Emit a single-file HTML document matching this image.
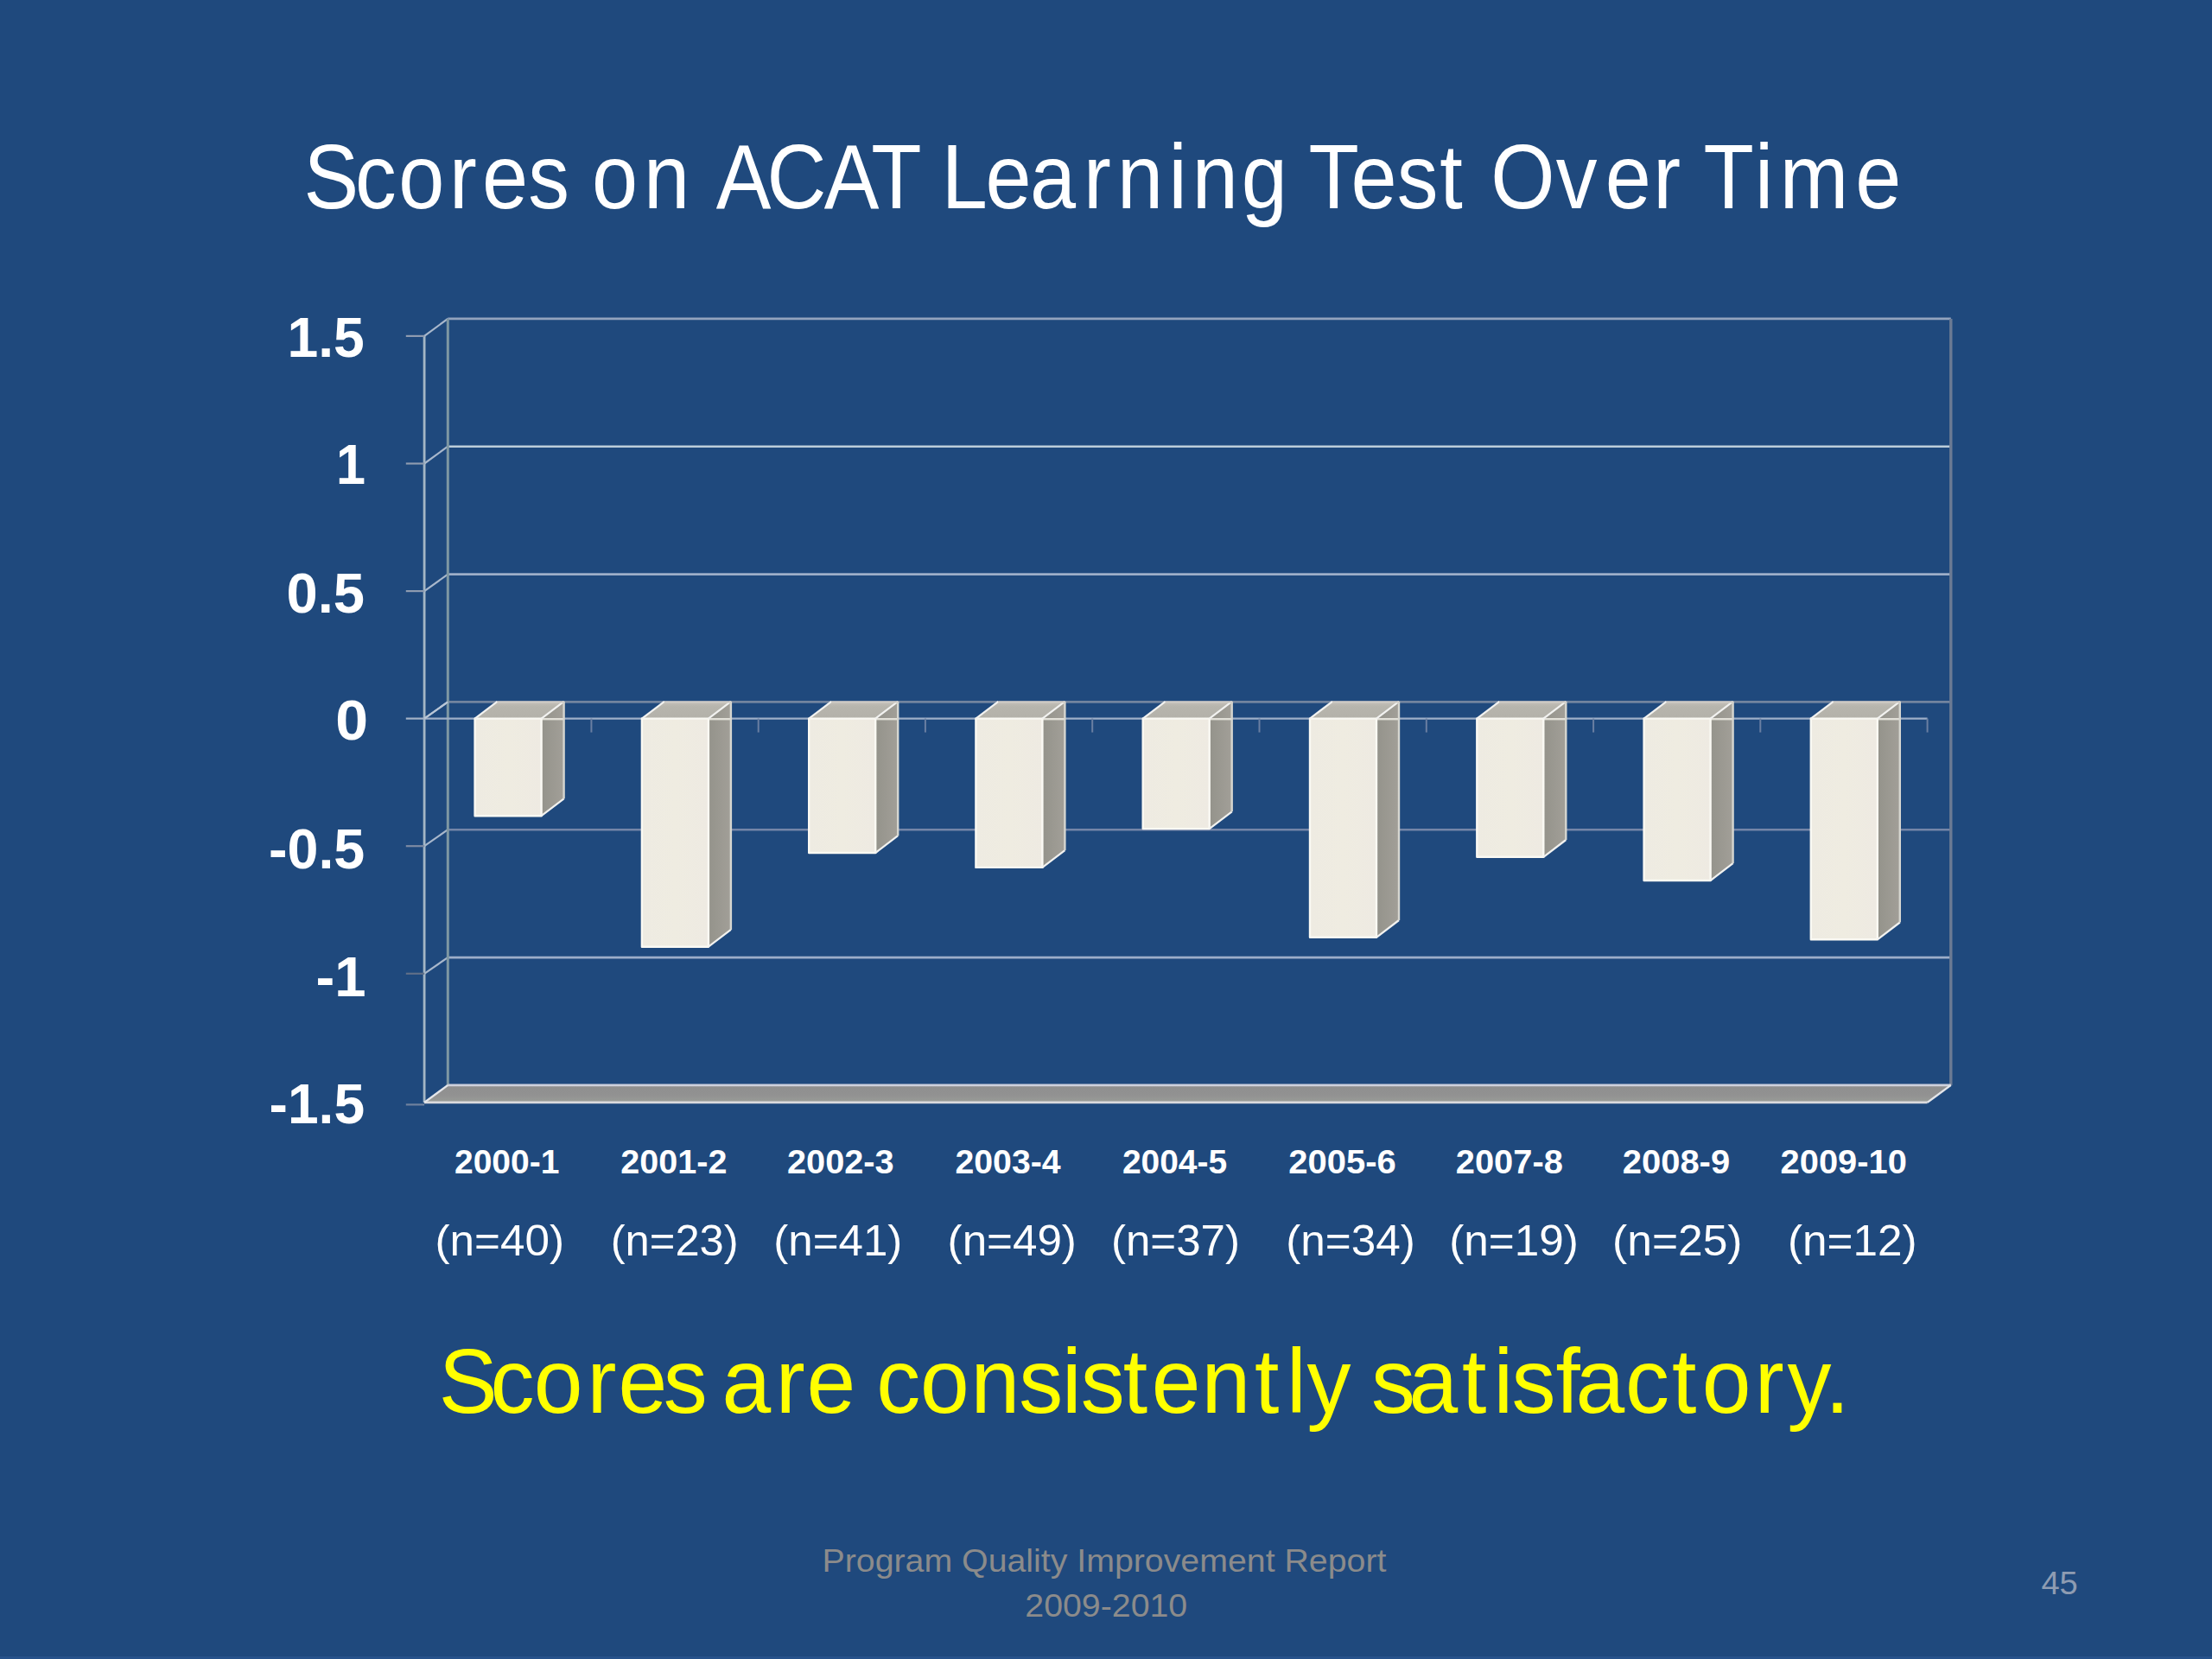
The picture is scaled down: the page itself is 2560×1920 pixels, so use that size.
<!DOCTYPE html>
<html><head><meta charset="utf-8"><title>Scores on ACAT Learning Test Over Time</title>
<style>
html,body{margin:0;padding:0;background:#1F497D;}
body{width:2560px;height:1920px;overflow:hidden;}
svg{display:block;}
text{font-family:"Liberation Sans",sans-serif;}
</style></head>
<body>
<svg width="2560" height="1920" viewBox="0 0 2560 1920">
<defs>
<linearGradient id="front" x1="0" y1="0" x2="1" y2="0">
<stop offset="0" stop-color="#EEEBE2"/><stop offset="0.5" stop-color="#EFECE1"/><stop offset="1" stop-color="#EEEAE2"/>
</linearGradient>
<linearGradient id="side" x1="0" y1="0" x2="1" y2="0">
<stop offset="0" stop-color="#94938B"/><stop offset="1" stop-color="#A29F98"/>
</linearGradient>
<linearGradient id="top" x1="0" y1="0" x2="0" y2="1">
<stop offset="0" stop-color="#C4C0BA"/><stop offset="0.3" stop-color="#B7B5AD"/><stop offset="1" stop-color="#B3B1A9"/>
</linearGradient>
<linearGradient id="floor" x1="0" y1="0" x2="0" y2="1">
<stop offset="0" stop-color="#8E8E8E"/><stop offset="0.6" stop-color="#929292"/><stop offset="1" stop-color="#9A9D98"/>
</linearGradient>
</defs>
<rect width="2560" height="1920" fill="#1F497D"/>
<rect x="0" y="1917" width="2560" height="3" fill="#27528A"/>
<line x1="518.3" y1="368.9" x2="2257.8" y2="368.9" stroke="#93A3BD" stroke-width="2.6"/>
<line x1="518.3" y1="516.7" x2="2257.8" y2="516.7" stroke="#BCCDDA" stroke-width="2.6"/>
<line x1="518.3" y1="664.6" x2="2257.8" y2="664.6" stroke="#9DAEC8" stroke-width="2.6"/>
<line x1="518.3" y1="812.4" x2="2257.8" y2="812.4" stroke="#72849F" stroke-width="2.6"/>
<line x1="518.3" y1="960.2" x2="2257.8" y2="960.2" stroke="#7485A8" stroke-width="2.6"/>
<line x1="518.3" y1="1108.1" x2="2257.8" y2="1108.1" stroke="#9DAEC9" stroke-width="2.6"/>
<line x1="491.1" y1="388.9" x2="518.3" y2="368.9" stroke="#A9B8CC" stroke-width="2.2"/>
<line x1="491.1" y1="536.5" x2="518.3" y2="516.7" stroke="#A9B8CC" stroke-width="2.2"/>
<line x1="491.1" y1="684.1" x2="518.3" y2="664.6" stroke="#A9B8CC" stroke-width="2.2"/>
<line x1="491.1" y1="831.6" x2="518.3" y2="812.4" stroke="#A9B8CC" stroke-width="2.2"/>
<line x1="491.1" y1="979.2" x2="518.3" y2="960.2" stroke="#A9B8CC" stroke-width="2.2"/>
<line x1="491.1" y1="1126.8" x2="518.3" y2="1108.1" stroke="#A9B8CC" stroke-width="2.2"/>
<line x1="518.3" y1="368.9" x2="518.3" y2="1255.9" stroke="#7E97A3" stroke-width="3"/>
<line x1="2257.8" y1="368.9" x2="2257.8" y2="1255.9" stroke="#6B7A93" stroke-width="3.4"/>
<line x1="491.1" y1="388.9" x2="491.1" y2="1275.9" stroke="#A4B6C5" stroke-width="2.8"/>
<line x1="469.8" y1="388.9" x2="491.1" y2="388.9" stroke="#8E9BB0" stroke-width="2.2"/>
<line x1="469.8" y1="536.5" x2="491.1" y2="536.5" stroke="#8E9BB0" stroke-width="2.2"/>
<line x1="469.8" y1="684.1" x2="491.1" y2="684.1" stroke="#8E9BB0" stroke-width="2.2"/>
<line x1="469.8" y1="831.6" x2="491.1" y2="831.6" stroke="#A4B2C6" stroke-width="2.2"/>
<line x1="469.8" y1="979.2" x2="491.1" y2="979.2" stroke="#7D8BA3" stroke-width="2.2"/>
<line x1="469.8" y1="1126.8" x2="491.1" y2="1126.8" stroke="#5F6F88" stroke-width="2.2"/>
<line x1="469.8" y1="1278.4" x2="491.1" y2="1278.4" stroke="#6F819E" stroke-width="2.2"/>
<polygon points="491.1,1275.9 2230.6,1275.9 2257.8,1255.9 518.3,1255.9" fill="url(#floor)"/>
<line x1="518.3" y1="1255.9" x2="2257.8" y2="1255.9" stroke="#CDD0DC" stroke-width="2.6"/>
<line x1="491.1" y1="1275.9" x2="2230.6" y2="1275.9" stroke="#DADADD" stroke-width="2.8"/>
<line x1="491.1" y1="1275.9" x2="518.3" y2="1255.9" stroke="#E4E6EA" stroke-width="2.4"/>
<line x1="2230.6" y1="1275.9" x2="2257.8" y2="1255.9" stroke="#E4E6EA" stroke-width="2.4"/>
<line x1="491.1" y1="831.6" x2="2230.6" y2="831.6" stroke="#9FAFC8" stroke-width="2.4"/>
<line x1="491.1" y1="831.6" x2="518.3" y2="812.4" stroke="#B9C6D6" stroke-width="2.2"/>
<polygon points="626.6,831.6 652.6,811.8 652.6,924.4 626.6,944.2" fill="url(#side)"/>
<polygon points="549.6,831.6 626.6,831.6 652.6,811.8 575.6,811.8" fill="url(#top)"/>
<rect x="549.6" y="831.6" width="77.0" height="112.6" fill="url(#front)"/>
<line x1="626.6" y1="832.2" x2="652.6" y2="832.2" stroke="#E2E0D8" stroke-width="2.4"/>
<path d="M549.6,944.2 L549.6,831.6 L626.6,831.6 L626.6,944.2 Z" fill="none" stroke="#FAF9F3" stroke-width="2.4" stroke-linejoin="round"/>
<path d="M549.6,831.6 L575.6,811.8 M626.6,831.6 L652.6,811.8 M652.6,924.4 L626.6,944.2" fill="none" stroke="#F2F2F0" stroke-width="2.2" stroke-linejoin="round"/>
<line x1="652.6" y1="811.8" x2="652.6" y2="924.4" stroke="#D6D6D0" stroke-width="2.4"/>
<line x1="575.6" y1="812.6" x2="652.6" y2="812.6" stroke="#CFCBC6" stroke-width="2"/>
<polygon points="819.9,831.6 845.9,811.8 845.9,1075.9 819.9,1095.7" fill="url(#side)"/>
<polygon points="742.9,831.6 819.9,831.6 845.9,811.8 768.9,811.8" fill="url(#top)"/>
<rect x="742.9" y="831.6" width="77.0" height="264.1" fill="url(#front)"/>
<line x1="819.9" y1="832.2" x2="845.9" y2="832.2" stroke="#E2E0D8" stroke-width="2.4"/>
<path d="M742.9,1095.7 L742.9,831.6 L819.9,831.6 L819.9,1095.7 Z" fill="none" stroke="#FAF9F3" stroke-width="2.4" stroke-linejoin="round"/>
<path d="M742.9,831.6 L768.9,811.8 M819.9,831.6 L845.9,811.8 M845.9,1075.9 L819.9,1095.7" fill="none" stroke="#F2F2F0" stroke-width="2.2" stroke-linejoin="round"/>
<line x1="845.9" y1="811.8" x2="845.9" y2="1075.9" stroke="#D6D6D0" stroke-width="2.4"/>
<line x1="768.9" y1="812.6" x2="845.9" y2="812.6" stroke="#CFCBC6" stroke-width="2"/>
<polygon points="1013.2,831.6 1039.2,811.8 1039.2,967.2 1013.2,987.0" fill="url(#side)"/>
<polygon points="936.2,831.6 1013.2,831.6 1039.2,811.8 962.2,811.8" fill="url(#top)"/>
<rect x="936.2" y="831.6" width="77.0" height="155.4" fill="url(#front)"/>
<line x1="1013.2" y1="832.2" x2="1039.2" y2="832.2" stroke="#E2E0D8" stroke-width="2.4"/>
<path d="M936.2,987.0 L936.2,831.6 L1013.2,831.6 L1013.2,987.0 Z" fill="none" stroke="#FAF9F3" stroke-width="2.4" stroke-linejoin="round"/>
<path d="M936.2,831.6 L962.2,811.8 M1013.2,831.6 L1039.2,811.8 M1039.2,967.2 L1013.2,987.0" fill="none" stroke="#F2F2F0" stroke-width="2.2" stroke-linejoin="round"/>
<line x1="1039.2" y1="811.8" x2="1039.2" y2="967.2" stroke="#D6D6D0" stroke-width="2.4"/>
<line x1="962.2" y1="812.6" x2="1039.2" y2="812.6" stroke="#CFCBC6" stroke-width="2"/>
<polygon points="1206.4,831.6 1232.4,811.8 1232.4,984.1 1206.4,1003.9" fill="url(#side)"/>
<polygon points="1129.4,831.6 1206.4,831.6 1232.4,811.8 1155.4,811.8" fill="url(#top)"/>
<rect x="1129.4" y="831.6" width="77.0" height="172.3" fill="url(#front)"/>
<line x1="1206.4" y1="832.2" x2="1232.4" y2="832.2" stroke="#E2E0D8" stroke-width="2.4"/>
<path d="M1129.4,1003.9 L1129.4,831.6 L1206.4,831.6 L1206.4,1003.9 Z" fill="none" stroke="#FAF9F3" stroke-width="2.4" stroke-linejoin="round"/>
<path d="M1129.4,831.6 L1155.4,811.8 M1206.4,831.6 L1232.4,811.8 M1232.4,984.1 L1206.4,1003.9" fill="none" stroke="#F2F2F0" stroke-width="2.2" stroke-linejoin="round"/>
<line x1="1232.4" y1="811.8" x2="1232.4" y2="984.1" stroke="#D6D6D0" stroke-width="2.4"/>
<line x1="1155.4" y1="812.6" x2="1232.4" y2="812.6" stroke="#CFCBC6" stroke-width="2"/>
<polygon points="1399.7,831.6 1425.7,811.8 1425.7,939.3 1399.7,959.1" fill="url(#side)"/>
<polygon points="1322.7,831.6 1399.7,831.6 1425.7,811.8 1348.7,811.8" fill="url(#top)"/>
<rect x="1322.7" y="831.6" width="77.0" height="127.5" fill="url(#front)"/>
<line x1="1399.7" y1="832.2" x2="1425.7" y2="832.2" stroke="#E2E0D8" stroke-width="2.4"/>
<path d="M1322.7,959.1 L1322.7,831.6 L1399.7,831.6 L1399.7,959.1 Z" fill="none" stroke="#FAF9F3" stroke-width="2.4" stroke-linejoin="round"/>
<path d="M1322.7,831.6 L1348.7,811.8 M1399.7,831.6 L1425.7,811.8 M1425.7,939.3 L1399.7,959.1" fill="none" stroke="#F2F2F0" stroke-width="2.2" stroke-linejoin="round"/>
<line x1="1425.7" y1="811.8" x2="1425.7" y2="939.3" stroke="#D6D6D0" stroke-width="2.4"/>
<line x1="1348.7" y1="812.6" x2="1425.7" y2="812.6" stroke="#CFCBC6" stroke-width="2"/>
<polygon points="1593.0,831.6 1619.0,811.8 1619.0,1065.0 1593.0,1084.8" fill="url(#side)"/>
<polygon points="1516.0,831.6 1593.0,831.6 1619.0,811.8 1542.0,811.8" fill="url(#top)"/>
<rect x="1516.0" y="831.6" width="77.0" height="253.2" fill="url(#front)"/>
<line x1="1593.0" y1="832.2" x2="1619.0" y2="832.2" stroke="#E2E0D8" stroke-width="2.4"/>
<path d="M1516.0,1084.8 L1516.0,831.6 L1593.0,831.6 L1593.0,1084.8 Z" fill="none" stroke="#FAF9F3" stroke-width="2.4" stroke-linejoin="round"/>
<path d="M1516.0,831.6 L1542.0,811.8 M1593.0,831.6 L1619.0,811.8 M1619.0,1065.0 L1593.0,1084.8" fill="none" stroke="#F2F2F0" stroke-width="2.2" stroke-linejoin="round"/>
<line x1="1619.0" y1="811.8" x2="1619.0" y2="1065.0" stroke="#D6D6D0" stroke-width="2.4"/>
<line x1="1542.0" y1="812.6" x2="1619.0" y2="812.6" stroke="#CFCBC6" stroke-width="2"/>
<polygon points="1786.3,831.6 1812.3,811.8 1812.3,972.0 1786.3,991.8" fill="url(#side)"/>
<polygon points="1709.3,831.6 1786.3,831.6 1812.3,811.8 1735.3,811.8" fill="url(#top)"/>
<rect x="1709.3" y="831.6" width="77.0" height="160.2" fill="url(#front)"/>
<line x1="1786.3" y1="832.2" x2="1812.3" y2="832.2" stroke="#E2E0D8" stroke-width="2.4"/>
<path d="M1709.3,991.8 L1709.3,831.6 L1786.3,831.6 L1786.3,991.8 Z" fill="none" stroke="#FAF9F3" stroke-width="2.4" stroke-linejoin="round"/>
<path d="M1709.3,831.6 L1735.3,811.8 M1786.3,831.6 L1812.3,811.8 M1812.3,972.0 L1786.3,991.8" fill="none" stroke="#F2F2F0" stroke-width="2.2" stroke-linejoin="round"/>
<line x1="1812.3" y1="811.8" x2="1812.3" y2="972.0" stroke="#D6D6D0" stroke-width="2.4"/>
<line x1="1735.3" y1="812.6" x2="1812.3" y2="812.6" stroke="#CFCBC6" stroke-width="2"/>
<polygon points="1979.6,831.6 2005.6,811.8 2005.6,999.2 1979.6,1019.0" fill="url(#side)"/>
<polygon points="1902.6,831.6 1979.6,831.6 2005.6,811.8 1928.6,811.8" fill="url(#top)"/>
<rect x="1902.6" y="831.6" width="77.0" height="187.4" fill="url(#front)"/>
<line x1="1979.6" y1="832.2" x2="2005.6" y2="832.2" stroke="#E2E0D8" stroke-width="2.4"/>
<path d="M1902.6,1019.0 L1902.6,831.6 L1979.6,831.6 L1979.6,1019.0 Z" fill="none" stroke="#FAF9F3" stroke-width="2.4" stroke-linejoin="round"/>
<path d="M1902.6,831.6 L1928.6,811.8 M1979.6,831.6 L2005.6,811.8 M2005.6,999.2 L1979.6,1019.0" fill="none" stroke="#F2F2F0" stroke-width="2.2" stroke-linejoin="round"/>
<line x1="2005.6" y1="811.8" x2="2005.6" y2="999.2" stroke="#D6D6D0" stroke-width="2.4"/>
<line x1="1928.6" y1="812.6" x2="2005.6" y2="812.6" stroke="#CFCBC6" stroke-width="2"/>
<polygon points="2172.8,831.6 2198.8,811.8 2198.8,1067.5 2172.8,1087.3" fill="url(#side)"/>
<polygon points="2095.8,831.6 2172.8,831.6 2198.8,811.8 2121.8,811.8" fill="url(#top)"/>
<rect x="2095.8" y="831.6" width="77.0" height="255.7" fill="url(#front)"/>
<line x1="2172.8" y1="832.2" x2="2198.8" y2="832.2" stroke="#E2E0D8" stroke-width="2.4"/>
<path d="M2095.8,1087.3 L2095.8,831.6 L2172.8,831.6 L2172.8,1087.3 Z" fill="none" stroke="#FAF9F3" stroke-width="2.4" stroke-linejoin="round"/>
<path d="M2095.8,831.6 L2121.8,811.8 M2172.8,831.6 L2198.8,811.8 M2198.8,1067.5 L2172.8,1087.3" fill="none" stroke="#F2F2F0" stroke-width="2.2" stroke-linejoin="round"/>
<line x1="2198.8" y1="811.8" x2="2198.8" y2="1067.5" stroke="#D6D6D0" stroke-width="2.4"/>
<line x1="2121.8" y1="812.6" x2="2198.8" y2="812.6" stroke="#CFCBC6" stroke-width="2"/>
<line x1="684.4" y1="831.6" x2="684.4" y2="847.6" stroke="#6A7FA2" stroke-width="2"/>
<line x1="877.7" y1="831.6" x2="877.7" y2="847.6" stroke="#6A7FA2" stroke-width="2"/>
<line x1="1070.9" y1="831.6" x2="1070.9" y2="847.6" stroke="#6A7FA2" stroke-width="2"/>
<line x1="1264.2" y1="831.6" x2="1264.2" y2="847.6" stroke="#6A7FA2" stroke-width="2"/>
<line x1="1457.5" y1="831.6" x2="1457.5" y2="847.6" stroke="#6A7FA2" stroke-width="2"/>
<line x1="1650.8" y1="831.6" x2="1650.8" y2="847.6" stroke="#6A7FA2" stroke-width="2"/>
<line x1="1844.1" y1="831.6" x2="1844.1" y2="847.6" stroke="#6A7FA2" stroke-width="2"/>
<line x1="2037.3" y1="831.6" x2="2037.3" y2="847.6" stroke="#6A7FA2" stroke-width="2"/>
<line x1="2230.6" y1="831.6" x2="2230.6" y2="847.6" stroke="#6A7FA2" stroke-width="2"/>
<text transform="matrix(0.909,0,0,1,0,0)" x="386.7 452.1 507.5 572.0 613.9 672.4 720.0 753.7 819.7 875.7 911.6 976.4 1049.2 1109.3 1172.4 1198.8 1254.8 1311.4 1379.5 1422.5 1487.9 1517.8 1580.5 1636.4 1666.2 1720.1 1778.6 1833.1 1867.2 1897.9 1981.0 2043.8 2104.9 2141.7 2168.8 2234.3 2266.1 2362.2" y="241.5" font-size="105" fill="#FFFFFF">Scores on ACAT Learning Test Over Time</text>
<text transform="matrix(0.9711,0,0,1,0,0)" x="522.9 584.4 636.2 699.7 736.9 790.7 836.8 860.3 924.5 961.2 1016.1 1044.4 1096.8 1156.9 1214.3 1265.5 1287.9 1338.4 1372.3 1431.9 1495.3 1533.2 1557.4 1611.0 1634.2 1679.0 1742.3 1780.0 1801.5 1854.1 1877.7 1937.1 1992.5 2028.4 2091.2 2130.1 2175.1" y="1635" font-size="105" fill="#FFFF00">Scores are consistently satisfactory.</text>
<text x="951.5" y="1819.0" font-size="37.5" fill="#8B8B8B" textLength="652.9" lengthAdjust="spacingAndGlyphs">Program Quality Improvement Report</text>
<text x="1186.3" y="1871.0" font-size="37.5" fill="#8B8B8B" textLength="187.9" lengthAdjust="spacingAndGlyphs">2009-2010</text>
<text x="2362.4" y="1845.0" font-size="37.5" fill="#8E9CB2" textLength="42.4" lengthAdjust="spacingAndGlyphs">45</text>
<text x="332.5" y="412.6" font-size="64" font-weight="bold" fill="#FFFFFF" textLength="89.3" lengthAdjust="spacingAndGlyphs">1.5</text>
<text x="389.1" y="560.0" font-size="64" font-weight="bold" fill="#FFFFFF" textLength="34.0" lengthAdjust="spacingAndGlyphs">1</text>
<text x="331.5" y="709.1" font-size="64" font-weight="bold" fill="#FFFFFF" textLength="90.5" lengthAdjust="spacingAndGlyphs">0.5</text>
<text x="388.3" y="856.0" font-size="64" font-weight="bold" fill="#FFFFFF" textLength="37.8" lengthAdjust="spacingAndGlyphs">0</text>
<text x="311.0" y="1005.4" font-size="64" font-weight="bold" fill="#FFFFFF" textLength="111.2" lengthAdjust="spacingAndGlyphs">-0.5</text>
<text x="365.6" y="1153.1" font-size="64" font-weight="bold" fill="#FFFFFF" textLength="58.0" lengthAdjust="spacingAndGlyphs">-1</text>
<text x="311.6" y="1299.8" font-size="64" font-weight="bold" fill="#FFFFFF" textLength="110.5" lengthAdjust="spacingAndGlyphs">-1.5</text>
<text x="526.0" y="1358.0" font-size="38" font-weight="bold" fill="#FFFFFF" textLength="121.4" lengthAdjust="spacingAndGlyphs">2000-1</text>
<text x="718.3" y="1358.0" font-size="38" font-weight="bold" fill="#FFFFFF" textLength="123.1" lengthAdjust="spacingAndGlyphs">2001-2</text>
<text x="911.0" y="1358.0" font-size="38" font-weight="bold" fill="#FFFFFF" textLength="123.6" lengthAdjust="spacingAndGlyphs">2002-3</text>
<text x="1105.5" y="1358.0" font-size="38" font-weight="bold" fill="#FFFFFF" textLength="122.1" lengthAdjust="spacingAndGlyphs">2003-4</text>
<text x="1298.9" y="1358.0" font-size="38" font-weight="bold" fill="#FFFFFF" textLength="121.2" lengthAdjust="spacingAndGlyphs">2004-5</text>
<text x="1491.2" y="1358.0" font-size="38" font-weight="bold" fill="#FFFFFF" textLength="124.5" lengthAdjust="spacingAndGlyphs">2005-6</text>
<text x="1684.8" y="1358.0" font-size="38" font-weight="bold" fill="#FFFFFF" textLength="124.0" lengthAdjust="spacingAndGlyphs">2007-8</text>
<text x="1877.8" y="1358.0" font-size="38" font-weight="bold" fill="#FFFFFF" textLength="124.3" lengthAdjust="spacingAndGlyphs">2008-9</text>
<text x="2060.6" y="1358.0" font-size="38" font-weight="bold" fill="#FFFFFF" textLength="146.3" lengthAdjust="spacingAndGlyphs">2009-10</text>
<text x="503.5" y="1453.0" font-size="50" fill="#FFFFFF" textLength="149.5" lengthAdjust="spacingAndGlyphs">(n=40)</text>
<text x="706.7" y="1453.0" font-size="50" fill="#FFFFFF" textLength="148.0" lengthAdjust="spacingAndGlyphs">(n=23)</text>
<text x="895.3" y="1453.0" font-size="50" fill="#FFFFFF" textLength="149.1" lengthAdjust="spacingAndGlyphs">(n=41)</text>
<text x="1096.6" y="1453.0" font-size="50" fill="#FFFFFF" textLength="149.3" lengthAdjust="spacingAndGlyphs">(n=49)</text>
<text x="1285.9" y="1453.0" font-size="50" fill="#FFFFFF" textLength="149.1" lengthAdjust="spacingAndGlyphs">(n=37)</text>
<text x="1488.2" y="1453.0" font-size="50" fill="#FFFFFF" textLength="149.7" lengthAdjust="spacingAndGlyphs">(n=34)</text>
<text x="1677.2" y="1453.0" font-size="50" fill="#FFFFFF" textLength="149.7" lengthAdjust="spacingAndGlyphs">(n=19)</text>
<text x="1866.1" y="1453.0" font-size="50" fill="#FFFFFF" textLength="150.4" lengthAdjust="spacingAndGlyphs">(n=25)</text>
<text x="2068.9" y="1453.0" font-size="50" fill="#FFFFFF" textLength="149.7" lengthAdjust="spacingAndGlyphs">(n=12)</text>
</svg>
</body></html>
